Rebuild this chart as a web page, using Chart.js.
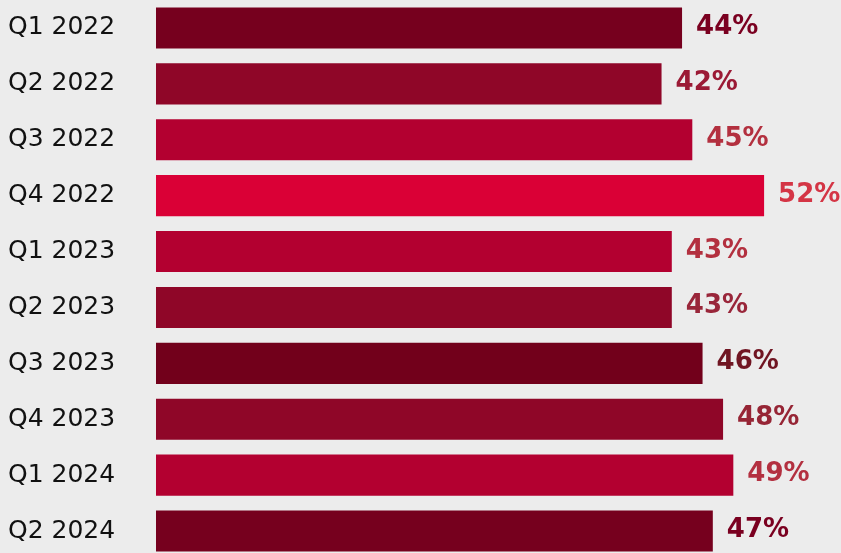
<!DOCTYPE html>
<html>
<head>
<meta charset="utf-8">
<script src="https://cdn.jsdelivr.net/npm/chart.js@4/dist/chart.umd.min.js"></script>
<style>
  html, body { margin: 0; padding: 0; background: #ececec; overflow: hidden; }
  #wrap { position: relative; width: 841px; height: 559px; }
</style>
</head>
<body>
<div id="wrap"><canvas id="chart"></canvas></div>
<script>
var quarters = ["Q1 2022", "Q2 2022", "Q3 2022", "Q4 2022", "Q1 2023",
                "Q2 2023", "Q3 2023", "Q4 2023", "Q1 2024", "Q2 2024"];
var shares = [44, 42, 45, 52, 43, 43, 46, 48, 49, 47];

var barColors = ["#76001e", "#8f0628", "#b30030", "#da0036", "#b30030",
                 "#8f0628", "#72001b", "#8f0628", "#b30030", "#76001e"];
var labelColors = ["#7a0020", "#9b1a35", "#b3303f", "#d43545", "#b3303f",
                   "#99263a", "#701522", "#962535", "#b33040", "#7a0020"];

// value labels at the end of each bar
var valueLabels = {
  id: "valueLabels",
  afterDatasetsDraw: function(chart) {
    var ctx = chart.ctx;
    var meta = chart.getDatasetMeta(0);
    ctx.save();
    ctx.font = "bold 26px 'DejaVu Sans'";
    ctx.textAlign = "left";
    ctx.textBaseline = "alphabetic";
    meta.data.forEach(function(bar, i) {
      ctx.fillStyle = labelColors[i];
      ctx.fillText(shares[i] + "%", bar.x + 14, bar.y + 6);
    });
    ctx.restore();
  }
};

window.addEventListener("load", function() {
  window.chart = new Chart(document.getElementById("chart").getContext("2d"), {
    type: "bar",
    data: {
      labels: quarters,
      datasets: [{
        data: shares,
        backgroundColor: barColors,
        borderWidth: 0,
        base: -7.3,
        barPercentage: 0.735,
        categoryPercentage: 1
      }]
    },
    options: {
      indexAxis: "y",
      responsive: true,
      maintainAspectRatio: false,
      animation: false,
      layout: { padding: { left: 8, right: 0, top: 0, bottom: 0 } },
      plugins: {
        legend: { display: false },
        tooltip: { enabled: false }
      },
      scales: {
        x: {
          display: false,
          min: -7.3,
          max: 59.5
        },
        y: {
          grid: { display: false },
          border: { display: false },
          afterFit: function(scale) {
            scale.width = 148;
            scale.paddingTop = 0;
            scale.paddingBottom = 0;
          },
          ticks: {
            crossAlign: "far",
            color: "#111111",
            font: { family: "DejaVu Sans", size: 25 }
          }
        }
      }
    },
    plugins: [valueLabels]
  });
});
</script>
</body>
</html>
